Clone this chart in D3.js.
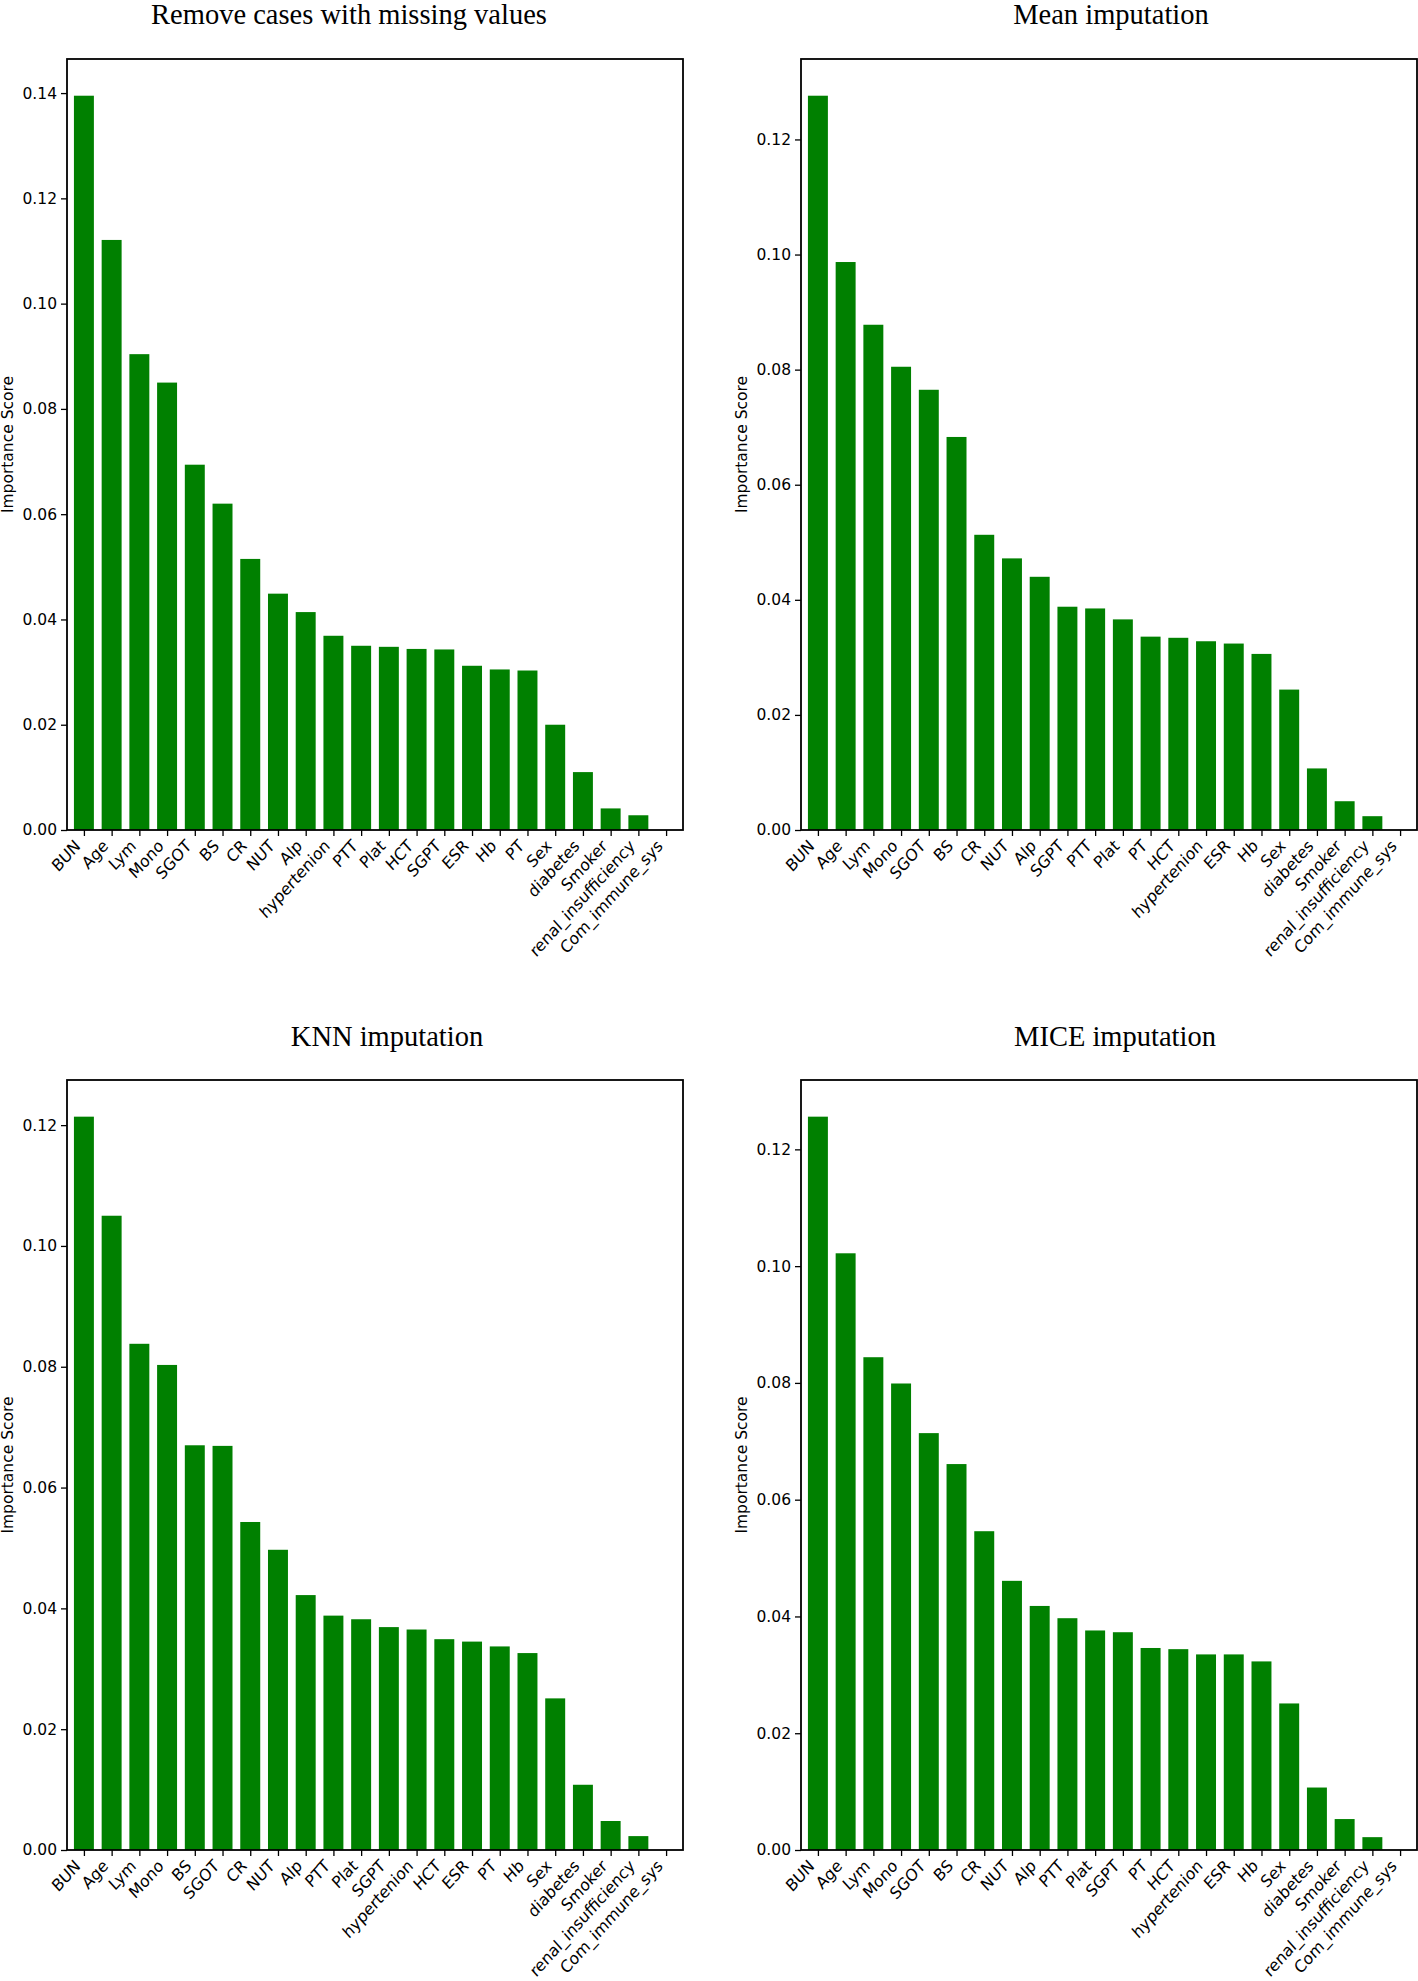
<!DOCTYPE html>
<html>
<head>
<meta charset="utf-8">
<script src="https://cdn.jsdelivr.net/npm/d3@7/dist/d3.min.js"></script>
<style>
  html, body { margin: 0; padding: 0; background: #fff; }
  svg { display: block; }
</style>
</head>
<body>
<svg id="chart" width="1418" height="1981"></svg>
<script>
// ---------- DATA ----------
const titles = ["Remove cases with missing values", "Mean imputation", "KNN imputation", "MICE imputation"];

const catsRemove = ["BUN","Age","Lym","Mono","SGOT","BS","CR","NUT","Alp","hypertenion","PTT","Plat","HCT","SGPT","ESR","Hb","PT","Sex","diabetes","Smoker","renal_insufficiency","Com_immune_sys"];
const valsRemove = [0.1395,0.1121,0.0904,0.0850,0.0694,0.0620,0.0515,0.0449,0.0414,0.0369,0.0350,0.0348,0.0344,0.0343,0.0312,0.0305,0.0303,0.0200,0.0110,0.0041,0.0028,0.0];

const catsMean = ["BUN","Age","Lym","Mono","SGOT","BS","CR","NUT","Alp","SGPT","PTT","Plat","PT","HCT","hypertenion","ESR","Hb","Sex","diabetes","Smoker","renal_insufficiency","Com_immune_sys"];
const valsMean = [0.1276,0.0987,0.0878,0.0805,0.0765,0.0683,0.0513,0.0472,0.0440,0.0388,0.0385,0.0366,0.0336,0.0334,0.0328,0.0324,0.0306,0.0244,0.0107,0.0050,0.0024,0.0];

const catsKNN = ["BUN","Age","Lym","Mono","BS","SGOT","CR","NUT","Alp","PTT","Plat","SGPT","hypertenion","HCT","ESR","PT","Hb","Sex","diabetes","Smoker","renal_insufficiency","Com_immune_sys"];
const valsKNN = [0.1214,0.1050,0.0838,0.0803,0.0670,0.0669,0.0543,0.0497,0.0422,0.0388,0.0382,0.0369,0.0365,0.0349,0.0345,0.0337,0.0326,0.0251,0.0108,0.0048,0.0023,0.0];

const catsMICE = ["BUN","Age","Lym","Mono","SGOT","BS","CR","NUT","Alp","PTT","Plat","SGPT","PT","HCT","hypertenion","ESR","Hb","Sex","diabetes","Smoker","renal_insufficiency","Com_immune_sys"];
const valsMICE = [0.1256,0.1022,0.0844,0.0799,0.0714,0.0661,0.0546,0.0461,0.0418,0.0397,0.0376,0.0373,0.0346,0.0344,0.0335,0.0335,0.0323,0.0251,0.0107,0.0053,0.0022,0.0];

const yTicks = [0.00, 0.02, 0.04, 0.06, 0.08, 0.10, 0.12, 0.14];
const yLabel = "Importance Score";

// ---------- LAYOUT ----------
const svg = d3.select("#chart");
svg.append("rect").attr("width",1418).attr("height",1981).attr("fill","#fff");

const panels = [
  {title: titles[0], cats: catsRemove, vals: valsRemove, x0: 67,  x1: 683,  y0: 59,   y1: 830,  tx: 349,  ty: 24,   lx: 7},
  {title: titles[1], cats: catsMean,   vals: valsMean,   x0: 801, x1: 1417, y0: 59,   y1: 830,  tx: 1111, ty: 24,   lx: 741},
  {title: titles[2], cats: catsKNN,    vals: valsKNN,    x0: 67,  x1: 683,  y0: 1080, y1: 1850, tx: 387,  ty: 1046, lx: 7},
  {title: titles[3], cats: catsMICE,   vals: valsMICE,   x0: 801, x1: 1417, y0: 1080, y1: 1850, tx: 1115, ty: 1046, lx: 741}
];

const tickFont = "'DejaVu Sans', sans-serif";
const fs = 15.5;
const fsX = 16.9;
const barW = 0.72;
const sq = 0.9; // horizontal condensation of the rotated category labels

panels.forEach(p => {
  const n = p.cats.length;
  const x = d3.scaleLinear().domain([-0.61, n - 1 + 0.61]).range([p.x0, p.x1]);
  const ymax = d3.max(p.vals) * 1.05;
  const y = d3.scaleLinear().domain([0, ymax]).range([p.y1, p.y0]);
  const g = svg.append("g");

  // bars
  g.selectAll("rect.bar").data(p.vals).enter().append("rect")
    .attr("class","bar")
    .attr("x", (d,i) => x(i - barW/2))
    .attr("width", (d,i) => x(i + barW/2) - x(i - barW/2))
    .attr("y", d => y(d))
    .attr("height", d => y(0) - y(d))
    .attr("fill", "#008000");

  // y axis
  const ticks = yTicks.filter(t => t <= ymax + 1e-9);
  const yAxis = d3.axisLeft(y).tickValues(ticks).tickFormat(d3.format(".2f")).tickSize(6).tickPadding(4);
  const ya = g.append("g").attr("transform", `translate(${p.x0},0)`).call(yAxis);
  ya.select(".domain").remove();
  ya.selectAll("line").attr("stroke","#000").attr("stroke-width",1.3);
  ya.selectAll("text").attr("font-family", tickFont).attr("font-size", fs).attr("fill","#000");

  // x axis
  const xAxis = d3.axisBottom(x).tickValues(d3.range(n)).tickFormat(i => p.cats[i]).tickSize(6).tickPadding(3);
  const xa = g.append("g").attr("transform", `translate(0,${p.y1})`).call(xAxis);
  xa.select(".domain").remove();
  xa.selectAll("line").attr("stroke","#000").attr("stroke-width",1.3);
  xa.selectAll("text")
    .attr("font-family", tickFont).attr("font-size", fsX).attr("fill","#000")
    .attr("text-anchor","end")
    .attr("x", 0).attr("y", 0).attr("dy", 0)
    .attr("transform", `translate(-3,17) scale(${sq},1) rotate(-45)`);

  // frame
  g.append("rect")
    .attr("x", p.x0).attr("y", p.y0)
    .attr("width", p.x1 - p.x0).attr("height", p.y1 - p.y0)
    .attr("fill","none").attr("stroke","#000").attr("stroke-width",1.8);

  // y label
  g.append("text")
    .attr("transform", `translate(${p.lx},${(p.y0 + p.y1)/2}) rotate(-90)`)
    .attr("text-anchor","middle").attr("dy","0.36em")
    .attr("font-family", tickFont).attr("font-size", fs).attr("fill","#000")
    .text(yLabel);

  // title
  svg.append("text")
    .attr("x", p.tx).attr("y", p.ty)
    .attr("text-anchor","middle")
    .attr("font-family","'Liberation Serif', 'Times New Roman', serif")
    .attr("font-size", 28.5).attr("fill","#000")
    .text(p.title);
});
</script>
</body>
</html>
